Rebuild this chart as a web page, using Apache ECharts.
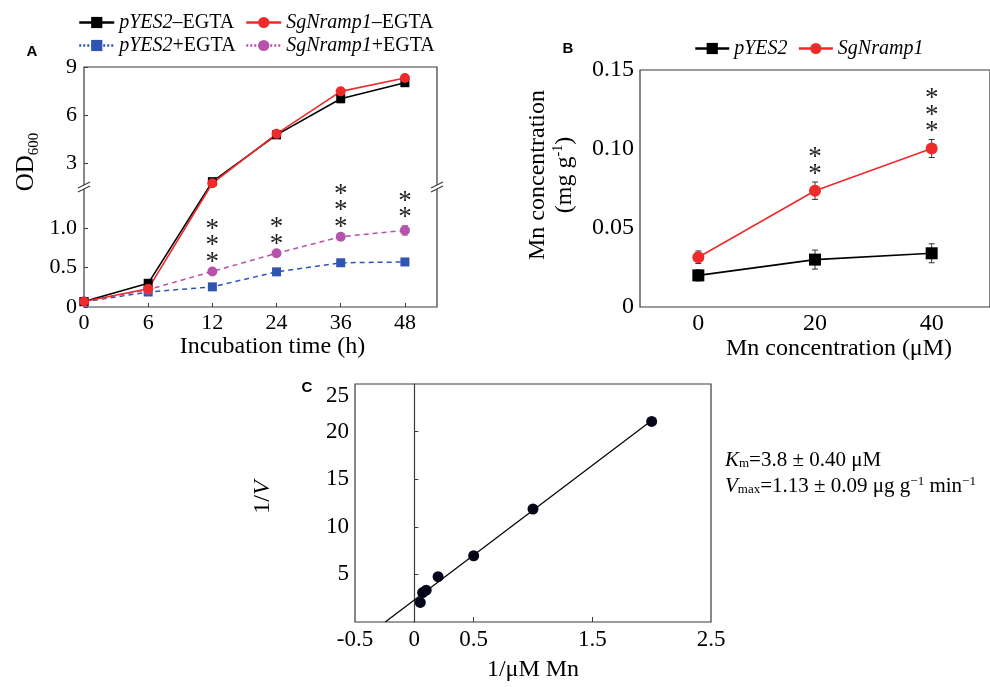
<!DOCTYPE html>
<html>
<head>
<meta charset="utf-8">
<script src="https://cdn.jsdelivr.net/npm/echarts@6/dist/echarts.min.js"></script>
<style>
  html, body { margin: 0; padding: 0; background: #fff; }
  #chart { width: 990px; height: 687px; }
</style>
</head>
<body>
<div id="chart"></div>
<script>
// ---- panel A: growth (OD600) ----
const timeLabels = ['0', '6', '12', '24', '36', '48'];
const odTickValues = [0, 0.5, 1.0, 3, 6, 9];
const odTickLabels = ['0', '0.5', '1.0', '3', '6', '9'];
const pyesMinus = [0.07, 0.30, 1.85, 4.77, 7.02, 8.02];
const pyesMinusErr = [0.01, 0.03, 0.06, 0.12, 0.25, 0.15];
const sgMinus = [0.07, 0.23, 1.75, 4.83, 7.48, 8.31];
const sgMinusErr = [0.01, 0.02, 0.05, 0.12, 0.12, 0.15];
const pyesPlus = [0.065, 0.19, 0.255, 0.445, 0.56, 0.57];
const pyesPlusErr = [0.01, 0.015, 0.02, 0.02, 0.02, 0.02];
const sgPlus = [0.07, 0.22, 0.45, 0.68, 0.89, 0.97];
const sgPlusErr = [0.01, 0.02, 0.02, 0.02, 0.02, 0.06];
const starsA = ['', '', '***', '**', '***', '**'];

// ---- panel B: Mn content ----
const mnLabels = ['0', '20', '40'];
const pyesMn = [0.020, 0.030, 0.034];
const pyesMnErr = [0.0035, 0.006, 0.006];
const sgMn = [0.0315, 0.0736, 0.1003];
const sgMnErr = [0.004, 0.0055, 0.0057];
const starsB = ['', '**', '***'];

// ---- panel C: double reciprocal plot ----
const invS = [0.05, 0.07, 0.1, 0.2, 0.5, 1, 2];
const invV = [2.05, 3.09, 3.34, 4.76, 6.96, 11.87, 21.07];
const invSTicks = [-0.5, 0, 0.5, 1.5, 2.5];
const invVTicks = [5, 10, 15, 20, 25];

const SERIF = 'Liberation Serif';
const AXIS = '#3a3a3a';
const RED = '#ee2a2a';
const BLUE = '#2f55b0';
const MAGENTA = '#b653ad';

// OD axis is broken at BREAK; above it the scale is squeezed
const BREAK = 1.52;
const SQUEEZE = 0.203;
const toV = v => (v <= BREAK ? v : BREAK + (v - BREAK) * SQUEEZE);

const italicPart = name => name.match(/^(pYES2|SgNramp1)/)[0];
const legendFmt = name => {
  const it = italicPart(name);
  const rest = name.slice(it.length);
  return rest ? `{i|${it}}{n|${rest}}` : `{i|${it}}`;
};
const legendText = {
  fontFamily: SERIF, fontSize: 20, color: '#000', lineHeight: 21,
  rich: {
    i: { fontFamily: SERIF, fontSize: 20, fontStyle: 'italic', color: '#000' },
    n: { fontFamily: SERIF, fontSize: 20, color: '#000' }
  }
};

function errorSeries(xAxisIndex, yAxisIndex, vals, errs, color, cap, tf) {
  const f = tf || (v => v);
  return {
    type: 'custom',
    xAxisIndex, yAxisIndex,
    silent: true,
    z: 1,
    encode: { x: 0, y: [1, 2] },
    renderItem: (params, api) => {
      const lo = api.coord([api.value(0), api.value(1)]);
      const hi = api.coord([api.value(0), api.value(2)]);
      const s = { stroke: color, lineWidth: 1 };
      return {
        type: 'group',
        children: [
          { type: 'line', shape: { x1: lo[0], y1: lo[1], x2: hi[0], y2: hi[1] }, style: s },
          { type: 'line', shape: { x1: lo[0] - cap, y1: lo[1], x2: lo[0] + cap, y2: lo[1] }, style: s },
          { type: 'line', shape: { x1: hi[0] - cap, y1: hi[1], x2: hi[0] + cap, y2: hi[1] }, style: s }
        ]
      };
    },
    data: vals.map((v, i) => [i, f(v - errs[i]), f(v + errs[i])])
  };
}

// least squares line for panel C
const n = invS.length;
const mx = invS.reduce((a, b) => a + b, 0) / n;
const my = invV.reduce((a, b) => a + b, 0) / n;
let sxy = 0, sxx = 0;
invS.forEach((x, i) => { sxy += (x - mx) * (invV[i] - my); sxx += (x - mx) * (x - mx); });
const slope = sxy / sxx;
const intercept = my - slope * mx;
const fitLine = [[-intercept / slope, 0], [invS[n - 1], intercept + slope * invS[n - 1]]];

const chart = echarts.init(document.getElementById('chart'), null, { renderer: 'canvas' });

const gridBorder = { show: true, borderColor: AXIS, borderWidth: 1.2, backgroundColor: 'transparent' };

const option = {
  animation: false,
  backgroundColor: '#fff',
  legend: [
    {
      data: ['pYES2–EGTA', { name: 'pYES2+EGTA', lineStyle: { type: [2, 2] } }],
      orient: 'vertical', left: 78, top: 12, itemGap: 2, padding: 0,
      itemWidth: 35, itemHeight: 14, selectedMode: false,
      lineStyle: { width: 2.5 },
      formatter: legendFmt, textStyle: legendText
    },
    {
      data: ['SgNramp1–EGTA', { name: 'SgNramp1+EGTA', lineStyle: { type: [2, 2] } }],
      orient: 'vertical', left: 245, top: 12, itemGap: 2, padding: 0,
      itemWidth: 35, itemHeight: 14, selectedMode: false,
      lineStyle: { width: 2.5 },
      formatter: legendFmt, textStyle: legendText
    },
    {
      data: ['pYES2', 'SgNramp1'],
      orient: 'horizontal', left: 694, top: 38, itemGap: 10, padding: 0,
      itemWidth: 34, itemHeight: 14, selectedMode: false,
      lineStyle: { width: 2.5 },
      formatter: legendFmt, textStyle: legendText
    }
  ],
  grid: [
    Object.assign({ left: 84, top: 67, width: 353, height: 240 }, gridBorder),
    Object.assign({ left: 640, top: 70, width: 354, height: 237 }, gridBorder),
    Object.assign({ left: 355, top: 384, width: 356, height: 238 }, gridBorder)
  ],
  xAxis: [
    {
      gridIndex: 0, type: 'value', min: 0, max: 5.5,
      axisLine: { show: false },
      axisTick: { inside: true, length: 4, lineStyle: { color: AXIS }, customValues: [1, 2, 3, 4, 5] },
      axisLabel: {
        customValues: [0, 1, 2, 3, 4, 5], margin: 5,
        formatter: v => timeLabels[Math.round(v)],
        fontFamily: SERIF, fontSize: 22, color: '#000'
      },
      splitLine: { show: false },
      name: 'Incubation time (h)', nameLocation: 'middle', nameGap: 28,
      nameTextStyle: { fontFamily: SERIF, fontSize: 24, color: '#000', padding: [0, 0, 0, 24] }
    },
    {
      gridIndex: 1, type: 'category', data: mnLabels, boundaryGap: true,
      axisLine: { show: false },
      axisTick: { inside: true, length: 5, lineStyle: { color: AXIS } },
      axisLabel: { margin: 5, fontFamily: SERIF, fontSize: 24, color: '#000' },
      name: 'Mn concentration (μM)', nameLocation: 'middle', nameGap: 28,
      nameTextStyle: { fontFamily: SERIF, fontSize: 24, color: '#000', padding: [0, 0, 0, 48] }
    },
    {
      gridIndex: 2, type: 'value', min: -0.5, max: 2.5,
      axisLine: { show: false },
      axisTick: { inside: true, length: 5, lineStyle: { color: AXIS }, customValues: [0.5, 1.5] },
      axisLabel: {
        customValues: invSTicks, margin: 6,
        formatter: v => String(v),
        fontFamily: SERIF, fontSize: 23, color: '#000'
      },
      splitLine: { show: false },
      name: '1/μM Mn', nameLocation: 'middle', nameGap: 36,
      nameTextStyle: { fontFamily: SERIF, fontSize: 24, color: '#000' }
    }
  ],
  yAxis: [
    {
      gridIndex: 0, type: 'value', min: 0, max: toV(9),
      axisLine: { show: false },
      axisTick: { inside: true, length: 4, lineStyle: { color: AXIS }, customValues: odTickValues.map(toV) },
      axisLabel: {
        customValues: odTickValues.map(toV), margin: 7,
        formatter: v => {
          let best = 0;
          odTickValues.forEach((t, i) => { if (Math.abs(toV(t) - v) < Math.abs(toV(odTickValues[best]) - v)) best = i; });
          return odTickLabels[best];
        },
        fontFamily: SERIF, fontSize: 22, color: '#000'
      },
      splitLine: { show: false },
      name: '{a|OD}{s|600}', nameLocation: 'middle', nameRotate: 90, nameGap: 45,
      nameTextStyle: {
        padding: [0, 0, 0, 50],
        rich: {
          a: { fontFamily: SERIF, fontSize: 25, color: '#000', lineHeight: 28, verticalAlign: 'bottom' },
          s: { fontFamily: SERIF, fontSize: 15, color: '#000', verticalAlign: 'bottom', padding: [0, 0, -3, 0] }
        }
      }
    },
    {
      gridIndex: 1, type: 'value', min: 0, max: 0.15, interval: 0.05,
      axisLine: { show: false },
      axisTick: { show: false },
      axisLabel: {
        margin: 6, formatter: v => (v === 0 ? '0' : v.toFixed(2)),
        fontFamily: SERIF, fontSize: 24, color: '#000'
      },
      splitLine: { show: false }
    },
    {
      gridIndex: 2, type: 'value', min: 0, max: 25,
      axisLine: { show: true, onZero: true, lineStyle: { color: AXIS, width: 1.2 } },
      axisTick: { inside: true, length: 4, lineStyle: { color: AXIS }, customValues: [5, 10, 15, 20] },
      axisLabel: {
        customValues: invVTicks, margin: 6,
        formatter: v => (v === 25 ? '{top|25}' : String(v)),
        fontFamily: SERIF, fontSize: 23, color: '#000',
        rich: { top: { fontFamily: SERIF, fontSize: 23, color: '#000', padding: [23, 0, 0, 0] } }
      },
      splitLine: { show: false },
      name: '{n|1/}{i|V}', nameLocation: 'middle', nameRotate: 90, nameGap: 80,
      nameTextStyle: {
        padding: [0, 0, 0, 12],
        rich: {
          n: { fontFamily: SERIF, fontSize: 24, color: '#000' },
          i: { fontFamily: SERIF, fontSize: 24, fontStyle: 'italic', color: '#000' }
        }
      }
    }
  ],
  series: [
    // panel A
    errorSeries(0, 0, pyesPlus, pyesPlusErr, BLUE, 3, toV),
    errorSeries(0, 0, sgPlus, sgPlusErr, MAGENTA, 3, toV),
    errorSeries(0, 0, pyesMinus, pyesMinusErr, '#888', 3, toV),
    errorSeries(0, 0, sgMinus, sgMinusErr, '#888', 3, toV),
    {
      name: 'pYES2+EGTA', type: 'line', xAxisIndex: 0, yAxisIndex: 0,
      data: pyesPlus.map((v, i) => [i, toV(v)]),
      symbol: 'rect', symbolSize: 9,
      lineStyle: { color: BLUE, width: 1.5, type: [5, 4] },
      itemStyle: { color: BLUE }
    },
    {
      name: 'SgNramp1+EGTA', type: 'line', xAxisIndex: 0, yAxisIndex: 0,
      data: sgPlus.map((v, i) => [i, toV(v)]),
      symbol: 'circle', symbolSize: 10,
      lineStyle: { color: MAGENTA, width: 1.5, type: [5, 4] },
      itemStyle: { color: MAGENTA }
    },
    {
      name: 'pYES2–EGTA', type: 'line', xAxisIndex: 0, yAxisIndex: 0,
      data: pyesMinus.map((v, i) => [i, toV(v)]),
      symbol: 'rect', symbolSize: 9,
      lineStyle: { color: '#000', width: 1.6 },
      itemStyle: { color: '#000' }
    },
    {
      name: 'SgNramp1–EGTA', type: 'line', xAxisIndex: 0, yAxisIndex: 0,
      data: sgMinus.map((v, i) => [i, toV(v)]),
      symbol: 'circle', symbolSize: 10,
      lineStyle: { color: RED, width: 1.6 },
      itemStyle: { color: RED }
    },
    // panel B
    errorSeries(1, 1, pyesMn, pyesMnErr, '#333', 3),
    errorSeries(1, 1, sgMn, sgMnErr, '#333', 3),
    {
      name: 'pYES2', type: 'line', xAxisIndex: 1, yAxisIndex: 1,
      data: pyesMn, symbol: 'rect', symbolSize: 12,
      lineStyle: { color: '#000', width: 1.6 },
      itemStyle: { color: '#000' }
    },
    {
      name: 'SgNramp1', type: 'line', xAxisIndex: 1, yAxisIndex: 1,
      data: sgMn, symbol: 'circle', symbolSize: 12,
      lineStyle: { color: RED, width: 1.6 },
      itemStyle: { color: RED }
    },
    // panel C
    {
      type: 'line', xAxisIndex: 2, yAxisIndex: 2, silent: true,
      data: fitLine, symbol: 'none',
      lineStyle: { color: '#000', width: 1.2 }
    },
    {
      type: 'scatter', xAxisIndex: 2, yAxisIndex: 2, silent: true,
      data: invS.map((x, i) => [x, invV[i]]),
      symbol: 'circle', symbolSize: 11,
      itemStyle: { color: '#05051c', opacity: 1 }
    }
  ]
};

chart.setOption(option);

// overlays placed from the axes: break marks, significance stars, labels
const graphics = [];
const breakY = chart.convertToPixel({ xAxisIndex: 0, yAxisIndex: 0 }, [0, toV(BREAK)])[1];
[84, 437].forEach(cx => {
  const cy = breakY;
  graphics.push(
    { type: 'polygon', z: 100, shape: { points: [[cx - 6, cy + 1], [cx + 6, cy - 5], [cx + 6, cy - 1], [cx - 6, cy + 5]] }, style: { fill: '#fff' } },
    { type: 'line', z: 101, shape: { x1: cx - 6, y1: cy + 1, x2: cx + 6, y2: cy - 5 }, style: { stroke: AXIS, lineWidth: 1.2 } },
    { type: 'line', z: 101, shape: { x1: cx - 6, y1: cy + 5, x2: cx + 6, y2: cy - 1 }, style: { stroke: AXIS, lineWidth: 1.2 } }
  );
});

function starText(px, stars) {
  return {
    type: 'text', z: 100, x: px[0], y: px[1],
    style: {
      text: stars.split('').join('\n'),
      fontFamily: SERIF, fontSize: 27, lineHeight: 16.5,
      fill: '#222', align: 'center', verticalAlign: 'bottom'
    }
  };
}
starsA.forEach((s, i) => {
  if (!s) return;
  const p = chart.convertToPixel({ xAxisIndex: 0, yAxisIndex: 0 }, [i, toV(sgPlus[i] + sgPlusErr[i])]);
  graphics.push(starText([p[0], p[1] + 1], s));
});
starsB.forEach((s, i) => {
  if (!s) return;
  const p = chart.convertToPixel({ xAxisIndex: 1, yAxisIndex: 1 }, [i, sgMn[i] + sgMnErr[i]]);
  graphics.push(starText([p[0], p[1] + 1], s));
});

// panel letters
[['A', 32, 52], ['B', 568, 49], ['C', 307, 388]].forEach(([t, x, y]) => {
  graphics.push({
    type: 'text', x, y,
    style: { text: t, fontFamily: 'Liberation Sans', fontWeight: 'bold', fontSize: 15, fill: '#000', align: 'center', verticalAlign: 'middle' }
  });
});

// panel B y title (two lines)
graphics.push({
  type: 'text', x: 551, y: 175, rotation: Math.PI / 2,
  style: {
    text: '{t|Mn concentration}\n{t|(mg g}{sup|-1}{t|)}',
    align: 'center', verticalAlign: 'middle',
    rich: {
      t: { fontFamily: SERIF, fontSize: 24, color: '#000', lineHeight: 27 },
      sup: { fontFamily: SERIF, fontSize: 14, color: '#000', lineHeight: 27, padding: [0, 0, 12, 0] }
    }
  }
});

// kinetic constants
const kText = { fontFamily: SERIF, fontSize: 21, color: '#000' };
graphics.push({
  type: 'text', x: 725, y: 460,
  style: {
    text: '{i|K}{sub|m}{n|=3.8 ± 0.40 μM}',
    verticalAlign: 'middle',
    rich: {
      i: Object.assign({ fontStyle: 'italic' }, kText),
      sub: { fontFamily: SERIF, fontSize: 13, color: '#000', padding: [0, 0, -8, 0] },
      n: kText
    }
  }
});
graphics.push({
  type: 'text', x: 725, y: 486,
  style: {
    text: '{i|V}{sub|max}{n|=1.13 ± 0.09 μg g}{sup|−1}{n| min}{sup|−1}',
    verticalAlign: 'middle',
    rich: {
      i: Object.assign({ fontStyle: 'italic' }, kText),
      sub: { fontFamily: SERIF, fontSize: 13, color: '#000', padding: [0, 0, -8, 0] },
      sup: { fontFamily: SERIF, fontSize: 13, color: '#000', padding: [0, 0, 8, 0] },
      n: kText
    }
  }
});

chart.setOption({ graphic: graphics });
window.addEventListener('resize', () => chart.resize());
</script>
</body>
</html>
